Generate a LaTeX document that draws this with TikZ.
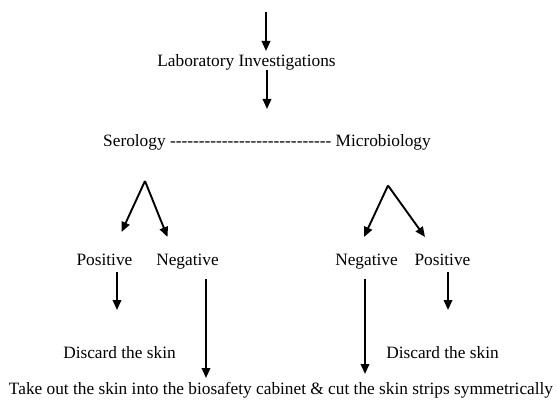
\documentclass[tikz,border=0pt]{standalone}
\usepackage{fontspec}
\setmainfont{Liberation Serif}[Ligatures=TeXOff]
\usetikzlibrary{arrows.meta}
\begin{document}
\begin{tikzpicture}[x=1pt,y=-1pt,
  lbl/.style={inner sep=0pt,anchor=base,font=\fontsize{17.3}{20}\selectfont},
  flow/.style={line width=1.9pt,-{Triangle[length=10pt,width=8.5pt]}}]
\useasboundingbox (0,0) rectangle (557,401);

% texts
\node[lbl] (lab) at (246.5,67) {Laboratory Investigations};
\node[lbl] (ser) at (267,146.5) {Serology ---------------------------- Microbiology};
\node[lbl] (posL) at (104.5,265) {Positive};
\node[lbl] (negL) at (187.5,265) {Negative};
\node[lbl] (negR) at (366.5,265) {Negative};
\node[lbl] (posR) at (442.5,265) {Positive};
\node[lbl] (disL) at (119.5,358) {Discard the skin};
\node[lbl] (disR) at (442.5,358) {Discard the skin};
\node[lbl] (take) at (281,394) {Take out the skin into the biosafety cabinet \& cut the skin strips symmetrically};

% arrow end points
\coordinate (t0) at (266,12);  \coordinate (t1) at (266,51);
\coordinate (m0) at (267,70);  \coordinate (m1) at (267,109);
\coordinate (fl) at (145,181); \coordinate (fl1) at (121.5,232); \coordinate (fl2) at (167.5,237);
\coordinate (fr) at (388,185.5); \coordinate (fr1) at (364,237); \coordinate (fr2) at (425,237);
\coordinate (a0) at (117,272); \coordinate (a1) at (117,310);
\coordinate (b0) at (206,279); \coordinate (b1) at (206,378);
\coordinate (c0) at (365,279); \coordinate (c1) at (365,374);
\coordinate (d0) at (448,272); \coordinate (d1) at (448,310);

% connectors
\draw[flow] (t0) -- (t1);
\draw[flow] (m0) -- (m1);
\draw[flow] (fl) -- (fl1);
\draw[flow] (fl) -- (fl2);
\draw[flow] (fr) -- (fr1);
\draw[flow] (fr) -- (fr2);
\draw[flow] (a0) -- (a1);
\draw[flow] (b0) -- (b1);
\draw[flow] (c0) -- (c1);
\draw[flow] (d0) -- (d1);
\end{tikzpicture}
\end{document}
